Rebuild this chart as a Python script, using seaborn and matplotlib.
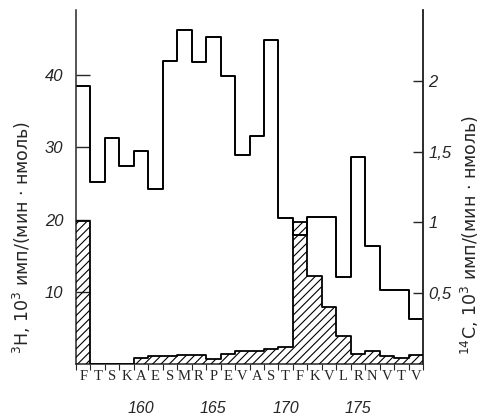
import matplotlib
matplotlib.use("Agg")
import matplotlib.pyplot as plt
import matplotlib.transforms as mtransforms
import seaborn as sns
import pandas as pd

# sequence window, residues 156..179
residues = ["F", "T", "S", "K", "A", "E", "S", "M", "R", "P", "E", "V",
            "A", "S", "T", "F", "K", "V", "L", "R", "N", "V", "T", "V"]
first_pos = 156
# 3H, 10^3 cpm/nmol (open steps, left axis)
h3_counts = [38.5, 25.2, 31.3, 27.4, 29.5, 24.2, 41.9, 46.3, 41.8, 45.2, 39.9, 28.9,
             31.6, 44.9, 20.2, 17.9, 20.3, 20.3, 12.1, 28.6, 16.3, 10.2, 10.2, 6.2]
# 14C, 10^3 cpm/nmol (hatched, right axis)
c14_counts = [1.01, 0.0, 0.0, 0.0, 0.04, 0.059, 0.059, 0.066, 0.066, 0.035, 0.073, 0.092,
              0.092, 0.108, 0.122, 1.0, 0.62, 0.40, 0.20, 0.068, 0.092, 0.056, 0.04, 0.064]
number_marks = [160, 165, 170, 175]
left_ticks = [10, 20, 30, 40]
right_ticks = [0.5, 1, 1.5, 2]
right_tick_labels = ["0,5", "1", "1,5", "2"]

sns.set_style("ticks")
plt.rcParams["font.family"] = ["DejaVu Sans"]
plt.rcParams["hatch.linewidth"] = 0.8
plt.rcParams["mathtext.fontset"] = "dejavusans"

pos = [first_pos + i for i in range(len(residues))]
edges = [p - 0.5 for p in pos] + [pos[-1] + 0.5]
df = pd.DataFrame({
    "edge": edges,
    "h3": h3_counts + [h3_counts[-1]],
    "c14": c14_counts + [c14_counts[-1]],
})

fig = plt.figure(figsize=(4.88, 4.18), dpi=100)
ax = fig.add_axes([76 / 488, 54 / 418, 347 / 488, 354 / 418])
ax2 = ax.twinx()

# hatched 14C profile
ax2.bar(pos, c14_counts, width=1.0, facecolor="none", hatch="////",
        edgecolor="black", linewidth=0, zorder=3)
sns.lineplot(data=df, x="edge", y="c14", ax=ax2, drawstyle="steps-post",
             color="black", linewidth=1.3, estimator=None, zorder=4)
# open 3H profile
sns.lineplot(data=df, x="edge", y="h3", ax=ax, drawstyle="steps-post",
             color="black", linewidth=1.4, estimator=None)

ax.set_xlim(edges[0], edges[-1])
ax.set_ylim(0, 49)
ax2.set_ylim(0, 2.5)

for a in (ax, ax2):
    a.spines["top"].set_visible(False)
    for s in a.spines.values():
        s.set_linewidth(1.1)
ax2.spines["left"].set_visible(False)
ax2.spines["bottom"].set_visible(False)

num_font = dict(family="Liberation Sans", style="italic")
ax.set_yticks(left_ticks)
ax.set_yticklabels([str(t) for t in left_ticks], fontsize=12, **num_font)
ax.tick_params(axis="y", direction="in", length=10, width=1, pad=9)
ax2.set_yticks(right_ticks)
ax2.set_yticklabels(right_tick_labels, fontsize=12, **num_font)
ax2.tick_params(axis="y", direction="in", length=7, width=1, pad=4)

ax.set_xticks(edges)
ax.set_xticklabels([])
ax.set_xticks(pos, minor=True)
ax.set_xticklabels(residues, minor=True, fontsize=10.5, family="Liberation Serif")
ax.tick_params(axis="x", which="major", direction="out", length=4, width=0.8)
ax.tick_params(axis="x", which="minor", length=0, pad=4)
ax.set_xlabel("")
ax.set_ylabel("")
ax2.set_xlabel("")
ax2.set_ylabel("")

trans = mtransforms.blended_transform_factory(ax.transData, ax.transAxes)
for n in number_marks:
    ax.text(n, -0.125, str(n), transform=trans, ha="center", va="center",
            fontsize=11.5, **num_font)

fig.text(0.045, (418 - 238) / 418,
         "$^{3}$H, $\\it{10}^{3}$ имп/(мин · нмоль)",
         rotation=90, ha="center", va="center", fontsize=12.5)
fig.text(0.963, (418 - 235) / 418,
         "$^{14}$C, $\\it{10}^{3}$ имп/(мин · нмоль)",
         rotation=90, ha="center", va="center", fontsize=12.5)

fig.savefig("out.png", dpi=100)
